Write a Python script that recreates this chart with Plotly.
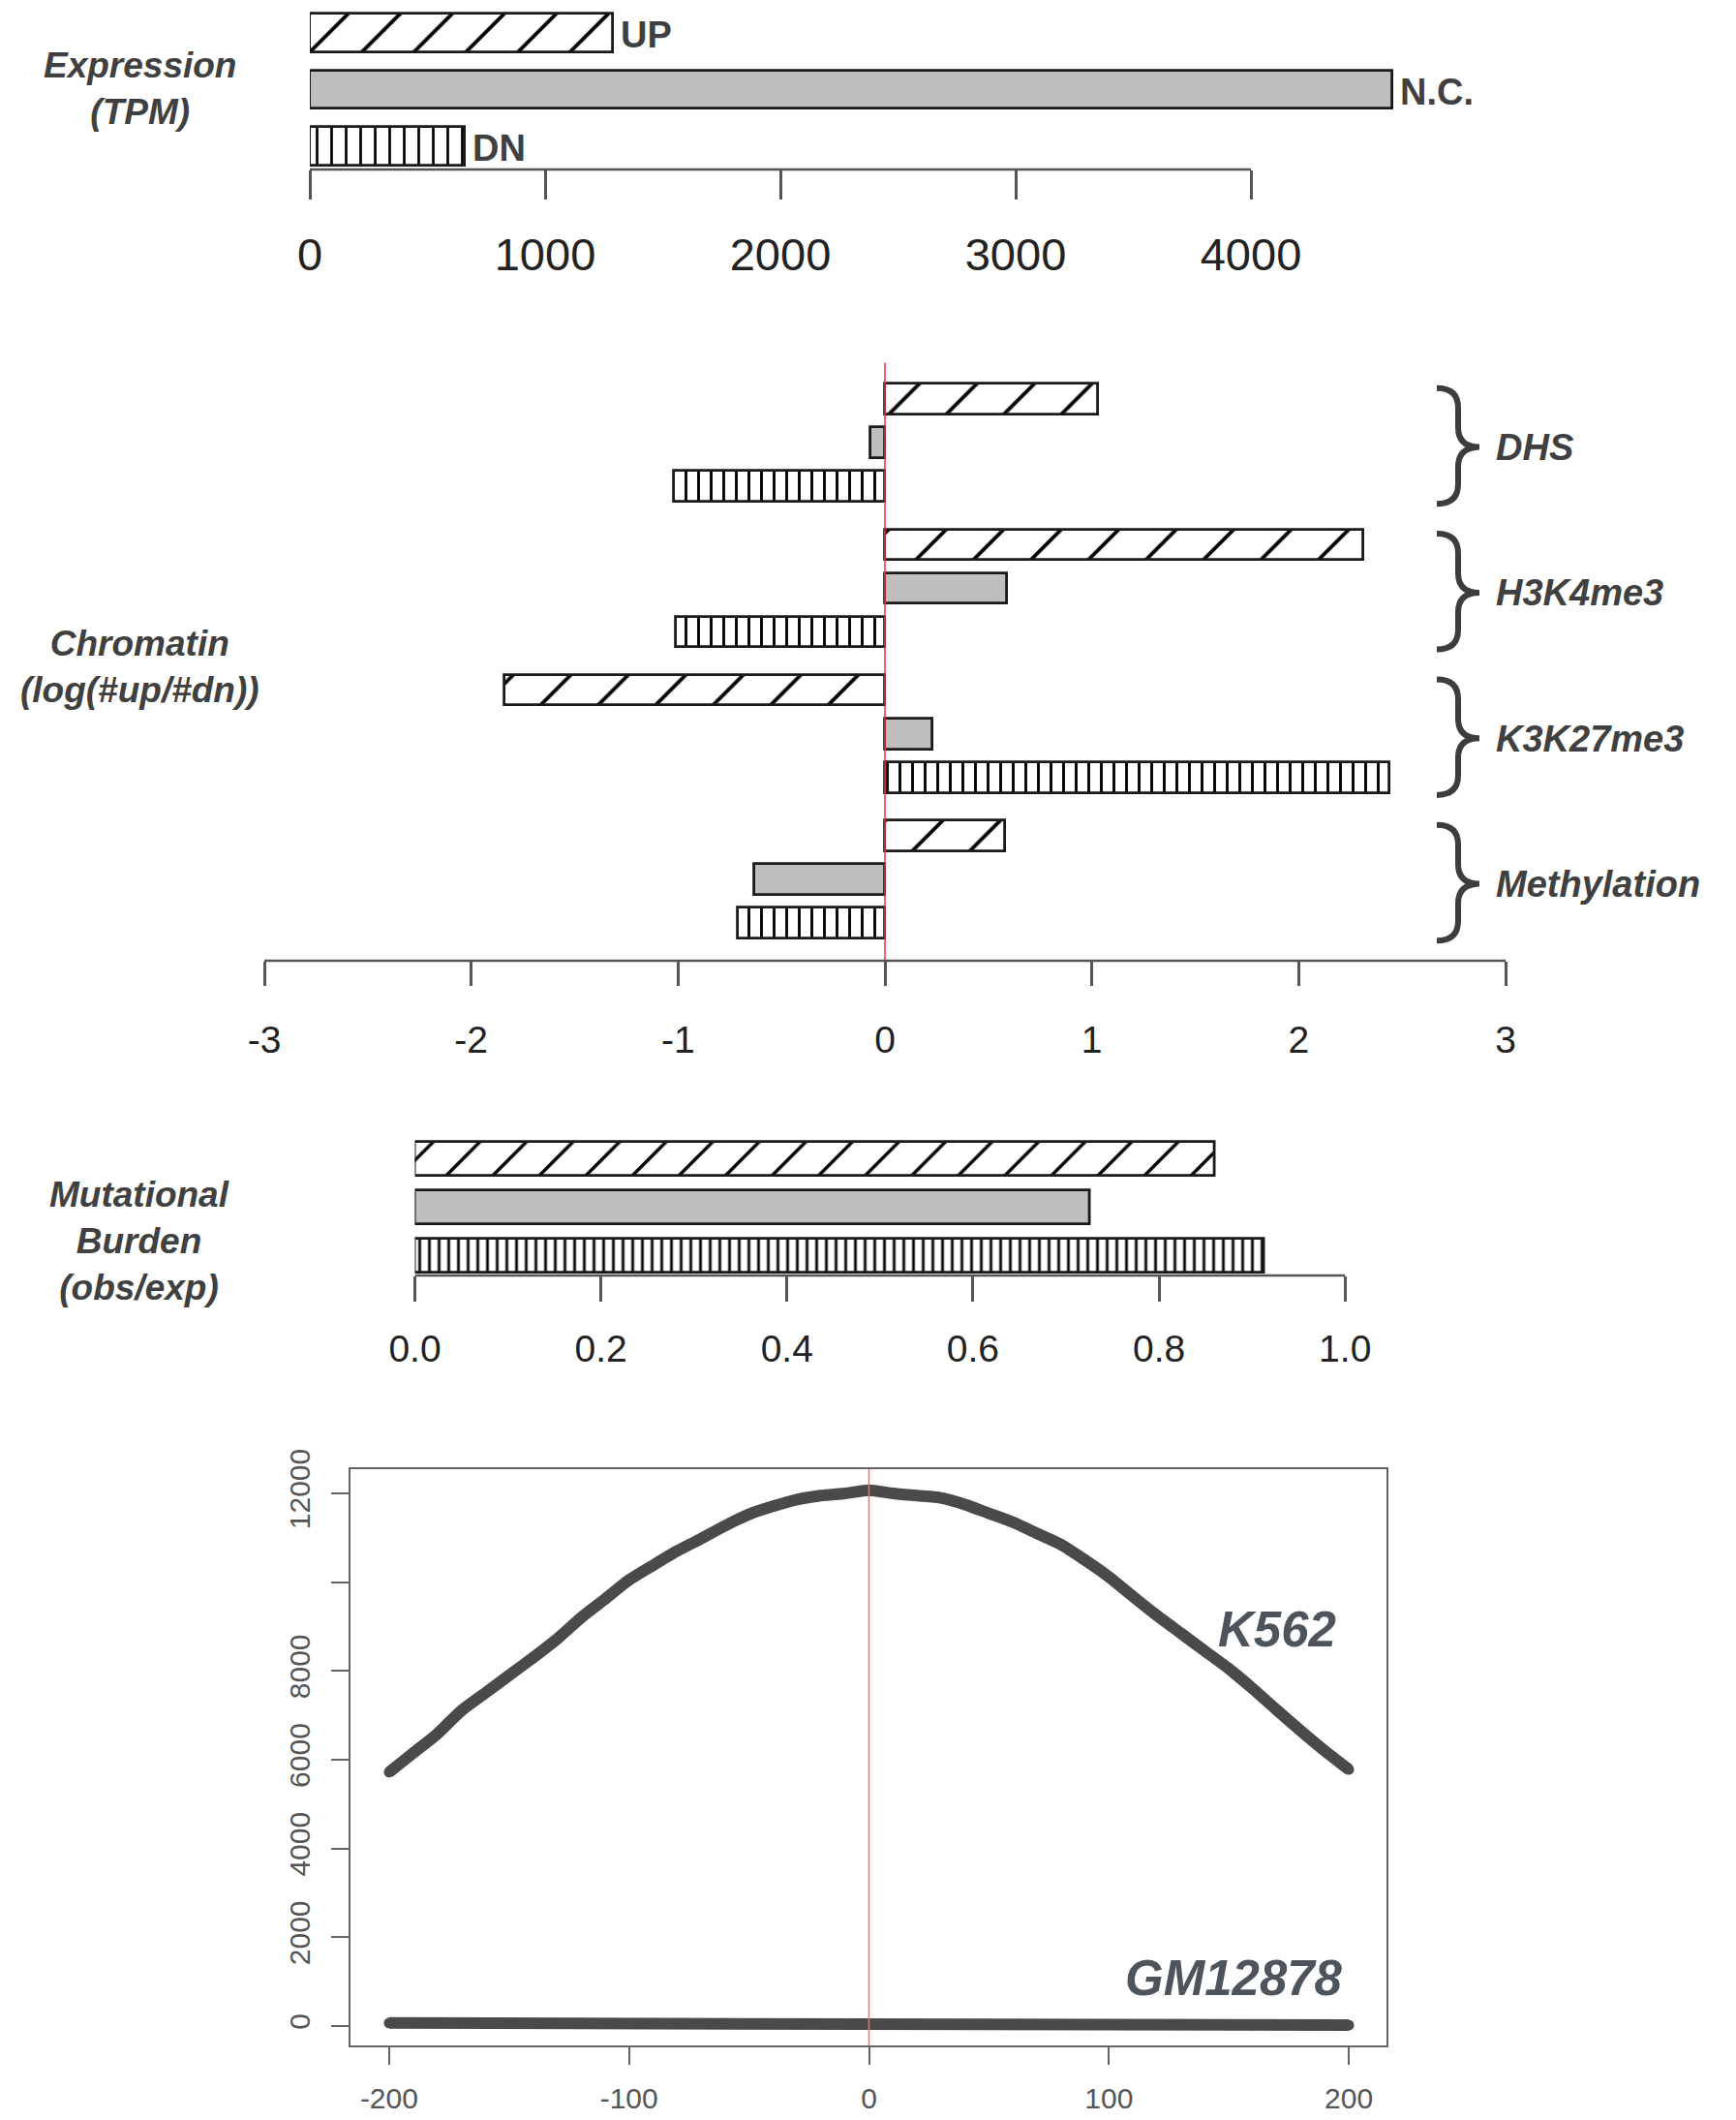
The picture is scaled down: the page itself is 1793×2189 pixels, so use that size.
import plotly.graph_objects as go

W, H = 1793, 2189

# ---------------- data ----------------
expr_cats = ["UP", "N.C.", "DN"]
expr_vals = [1290, 4600, 660]
expr_ticks = [0, 1000, 2000, 3000, 4000]

chrom_groups = ["DHS", "H3K4me3", "K3K27me3", "Methylation"]
chrom_up = [1.03, 2.31, -1.84, 0.58]
chrom_nc = [-0.07, 0.59, 0.23, -0.63]
chrom_dn = [-1.02, -1.01, 2.44, -0.71]
chrom_ticks = [-3, -2, -1, 0, 1, 2, 3]

mut_cats = ["UP", "N.C.", "DN"]
mut_vals = [0.86, 0.726, 0.913]
mut_ticks = [0.0, 0.2, 0.4, 0.6, 0.8, 1.0]
mut_ticktext = ["0.0", "0.2", "0.4", "0.6", "0.8", "1.0"]

prof_x = list(range(-200, 201, 10))
k562 = [5720, 6150, 6580, 7100, 7500, 7900, 8300, 8720, 9200, 9620,
        10050, 10380, 10700, 10980, 11270, 11530, 11710, 11860, 11950, 12000,
        12070, 12000, 11950, 11900, 11750, 11550, 11350, 11100, 10850, 10500,
        10120, 9680, 9250, 8850, 8450, 8050, 7600, 7120, 6650, 6200, 5780]
gm12878 = [70, 70, 70, 68, 68, 67, 66, 65, 64, 63,
           62, 61, 60, 59, 58, 57, 56, 55, 54, 53,
           52, 50, 48, 46, 44, 42, 40, 38, 36, 34,
           32, 30, 28, 27, 26, 25, 24, 23, 22, 21, 20]
prof_xticks = [-200, -100, 0, 100, 200]
prof_yticks = [0, 2000, 4000, 6000, 8000, 10000, 12000]
prof_yticktext = ["0", "2000", "4000", "6000", "8000", "", "12000"]

# ---------------- helpers ----------------
def px(x):
    return x / W

def py(y):
    return 1 - y / H

FONT = "Liberation Sans, Arial, Helvetica, sans-serif"
LBL = "#404040"
OUT = "#1a1a1a"
AX = "#555555"
GRAY = "#bebebe"

def pat(shape, size, sol):
    return dict(shape=shape, fgcolor="#000000", fgopacity=1, bgcolor="white",
                size=size, solidity=sol, fillmode="replace")

fig = go.Figure()

# ---------------- panel 1: expression ----------------
e_pos = list(range(len(expr_cats)))
e_patterns = [pat("/", 38, 0.1), None, pat("|", 15, 0.18)]
for i, (c, v) in enumerate(zip(expr_cats, expr_vals)):
    mk = dict(color=GRAY if e_patterns[i] is None else "white",
              line=dict(color=OUT, width=2.8))
    if e_patterns[i] is not None:
        mk["pattern"] = e_patterns[i]
    fig.add_trace(go.Bar(x=[v], y=[e_pos[i]], orientation="h", width=0.67,
                         marker=mk, xaxis="x", yaxis="y", showlegend=False, name=c))
    fig.add_annotation(x=v, y=e_pos[i], xref="x", yref="y", text="<b>%s</b>" % c,
                       showarrow=False, xanchor="left", yanchor="middle", xshift=6, yshift=-2,
                       font=dict(family=FONT, size=38, color=LBL))

# ---------------- panel 2: chromatin ----------------
def gpos(g, i):
    return g * 10.0 / 3.0 + i

series = [("UP", chrom_up, pat("/", 42, 0.09), "white"),
          ("N.C.", chrom_nc, None, GRAY),
          ("DN", chrom_dn, pat("|", 13, 0.22), "white")]
for i, (name, vals, pt, col) in enumerate(series):
    mk = dict(color=col, line=dict(color=OUT, width=2.8))
    if pt is not None:
        mk["pattern"] = pt
    fig.add_trace(go.Bar(x=vals, y=[gpos(g, i) for g in range(len(vals))],
                         orientation="h", width=0.7, marker=mk,
                         xaxis="x2", yaxis="y2", showlegend=False, name=name))

for g, lab in enumerate(chrom_groups):
    fig.add_annotation(x=px(1543), y=gpos(g, 1), xref="paper", yref="y2",
                       text="<b><i>%s</i></b>" % lab, showarrow=False,
                       xanchor="left", yanchor="middle", yshift=-5,
                       font=dict(family=FONT, size=38, color=LBL))
    xl, xc, xr = px(1484), px(1506), px(1528)
    yt, ym, yb = gpos(g, -0.25), gpos(g, 1.1), gpos(g, 2.4)
    r = 0.45
    path = ("M %f,%f Q %f,%f %f,%f L %f,%f Q %f,%f %f,%f Q %f,%f %f,%f L %f,%f Q %f,%f %f,%f" % (
        xl, yt, xc, yt, xc, yt + r,
        xc, ym - r,
        xc, ym, xr, ym,
        xc, ym, xc, ym + r,
        xc, yb - r,
        xc, yb, xl, yb))
    fig.add_shape(type="path", path=path, xref="paper", yref="y2",
                  line=dict(color="#3d3d3d", width=6))

fig.add_shape(type="line", x0=0, x1=0, y0=0.0, y1=0.977, xref="x2", yref="y2 domain",
              line=dict(color="#ee3333", width=1.5))

# ---------------- panel 3: mutational burden ----------------
m_patterns = [pat("/", 34, 0.1), None, pat("|", 10, 0.28)]
for i, (c, v) in enumerate(zip(mut_cats, mut_vals)):
    mk = dict(color=GRAY if m_patterns[i] is None else "white",
              line=dict(color=OUT, width=2.8))
    if m_patterns[i] is not None:
        mk["pattern"] = m_patterns[i]
    fig.add_trace(go.Bar(x=[v], y=[i], orientation="h", width=0.7,
                         marker=mk, xaxis="x3", yaxis="y3", showlegend=False, name=c))

# ---------------- panel 4: profile ----------------
LINEC = "#4a4a4a"
fig.add_trace(go.Scatter(x=prof_x, y=k562, mode="lines+markers", xaxis="x4", yaxis="y4",
                         line=dict(color=LINEC, width=12, shape="spline", smoothing=0.6),
                         marker=dict(color=LINEC, size=11),
                         showlegend=False, name="K562"))
fig.add_trace(go.Scatter(x=prof_x, y=gm12878, mode="lines+markers", xaxis="x4", yaxis="y4",
                         line=dict(color=LINEC, width=12), marker=dict(color=LINEC, size=11),
                         showlegend=False, name="GM12878"))
fig.add_shape(type="line", x0=0, x1=0, y0=0, y1=1, xref="x4", yref="y4 domain",
              line=dict(color="#f07070", width=1.5))

# ---------------- axis baselines (R style: first to last tick) ----------------
for xr_, yr_, t0, t1 in [("x", "y domain", expr_ticks[0], expr_ticks[-1]),
                          ("x2", "y2 domain", chrom_ticks[0], chrom_ticks[-1]),
                          ("x3", "y3 domain", mut_ticks[0], mut_ticks[-1])]:
    fig.add_shape(type="line", x0=t0, x1=t1, y0=0, y1=0, xref=xr_, yref=yr_,
                  line=dict(color=AX, width=2.5))

# ---------------- side labels ----------------
def side(text, ycenter):
    fig.add_annotation(x=px(144), y=py(ycenter), xref="paper", yref="paper",
                       text=text, showarrow=False, xanchor="center", yanchor="middle",
                       align="center", font=dict(family=FONT, size=37, color=LBL))

side("<b><i>Expression<br>(TPM)</i></b>", 92)
side("<b><i>Chromatin<br>(log(#up/#dn))</i></b>", 688)
side("<b><i>Mutational<br>Burden<br>(obs/exp)</i></b>", 1281)

fig.add_annotation(x=px(1382), y=py(1682), xref="paper", yref="paper",
                   text="<b><i>K562</i></b>", showarrow=False, xanchor="right", yanchor="middle",
                   font=dict(family=FONT, size=51, color="#4d545c"))
fig.add_annotation(x=px(1389), y=py(2042), xref="paper", yref="paper",
                   text="<b><i>GM12878</i></b>", showarrow=False, xanchor="right", yanchor="middle",
                   font=dict(family=FONT, size=51, color="#4d545c"))

# ---------------- axes ----------------
def xbar_axis(domain, rng, tickvals, ticktext, ticklen, fsize, standoff, anchor):
    return dict(domain=domain, range=rng, anchor=anchor, showgrid=False, zeroline=False,
                showline=False, ticks="outside", ticklen=ticklen, tickwidth=2.5, tickcolor=AX,
                tickvals=tickvals, ticktext=ticktext, ticklabelstandoff=standoff,
                automargin=False,
                tickfont=dict(family=FONT, size=fsize, color="#222222"), fixedrange=True)

def hidden_y(domain, rng, anchor):
    return dict(domain=domain, range=rng, anchor=anchor, visible=False, showgrid=False,
                zeroline=False, fixedrange=True, automargin=False)

fig.update_layout(
    width=W, height=H, margin=dict(l=0, r=0, t=0, b=0, pad=0, autoexpand=False),
    paper_bgcolor="white", plot_bgcolor="rgba(0,0,0,0)",
    barmode="overlay", bargap=0,
    xaxis=xbar_axis([px(320), px(1535)], [0, 5000], expr_ticks, [str(t) for t in expr_ticks],
                    30, 47, 17, "y"),
    yaxis=hidden_y([py(175), py(0)], [2.41, -0.581], "x"),
    xaxis2=xbar_axis([px(273), px(1555)], [-3, 3], chrom_ticks, [str(t) for t in chrom_ticks],
                     25, 39, 22, "y2"),
    yaxis2=hidden_y([py(992), py(360)], [12.86, -1.153], "x2"),
    xaxis3=xbar_axis([px(428.5), px(1485.3)], [0, 1.1], mut_ticks, mut_ticktext,
                     26, 39, 15, "y3"),
    yaxis3=hidden_y([py(1317), py(1150)], [2.42, -0.92], "x3"),
    xaxis4=dict(domain=[px(362), px(1432)], range=[-216.1, 215.7], anchor="y4",
                showgrid=False, zeroline=False, showline=True, mirror=True, automargin=False,
                linecolor="#666666", linewidth=1.5, ticks="outside", ticklen=18,
                tickwidth=1.5, tickcolor="#666666", tickvals=prof_xticks,
                ticktext=[str(t) for t in prof_xticks], ticklabelstandoff=9,
                tickfont=dict(family=FONT, size=30, color="#555555"), fixedrange=True),
    yaxis4=dict(domain=[py(2112), py(1517)], range=[-436, 12546], anchor="x4",
                showgrid=False, zeroline=False, showline=True, mirror=True, automargin=False,
                linecolor="#666666", linewidth=1.5, ticks="outside", ticklen=18,
                tickwidth=1.5, tickcolor="#666666", tickvals=prof_yticks,
                ticktext=prof_yticktext, tickangle=-90, ticklabelstandoff=10,
                tickfont=dict(family=FONT, size=30, color="#555555"), fixedrange=True),
)

fig.write_html("out.html", config={"displayModeBar": False},
               post_script="document.body.style.margin='0px';document.body.style.overflow='hidden';")
